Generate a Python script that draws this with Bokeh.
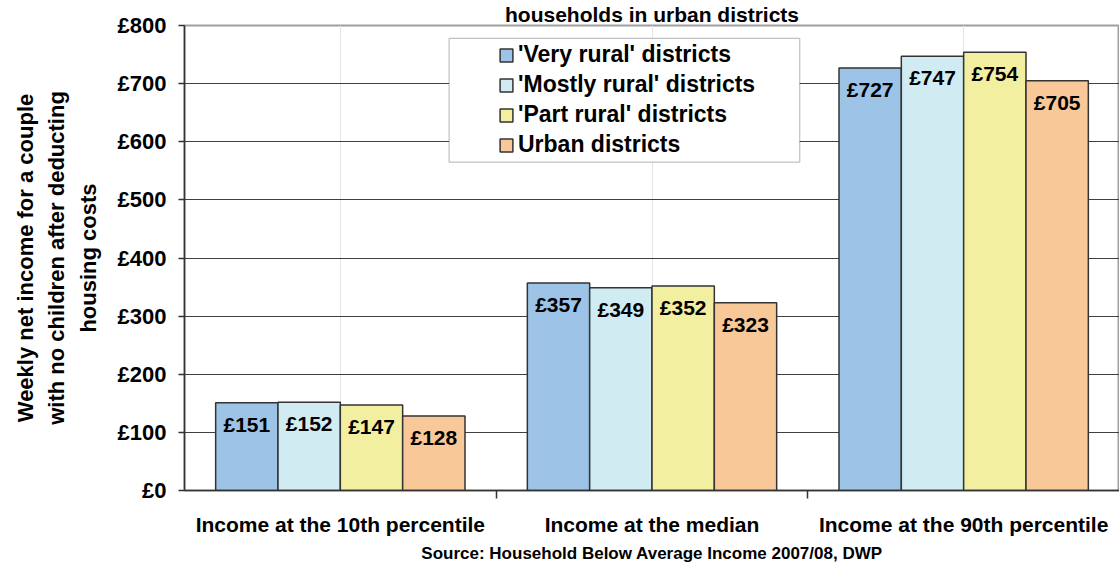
from bokeh.plotting import figure
from bokeh.models import (FactorRange, Range1d, LinearAxis, FixedTicker, ColumnDataSource,
                          LabelSet, Legend, LegendItem, BoxAnnotation, Title)
from bokeh.core.properties import value
from bokeh.transform import dodge
from bokeh.embed import file_html
from bokeh.resources import INLINE

# ---- data ----
categories = ["Income at the 10th percentile", "Income at the median", "Income at the 90th percentile"]
series_names = ["'Very rural' districts", "'Mostly rural' districts", "'Part rural' districts", "Urban districts"]
very_rural = [151, 357, 727]
mostly_rural = [152, 349, 747]
part_rural = [147, 352, 754]
urban = [128, 323, 705]
y_ticks = [0, 100, 200, 300, 400, 500, 600, 700, 800]
y_tick_labels = ["£0", "£100", "£200", "£300", "£400", "£500", "£600", "£700", "£800"]
title_text = "households in urban districts"
y_title = "Weekly net income for a couple\nwith no children after deducting\nhousing costs"
source_text = "Source: Household Below Average Income 2007/08, DWP"

colors = ["#9DC3E6", "#D0ECF2", "#F2F0A0", "#F8C898"]
FONT = "Liberation Sans"

src = ColumnDataSource(dict(
    cat=categories,
    s0=very_rural, s1=mostly_rural, s2=part_rural, s3=urban,
    l0=["£%d" % v for v in very_rural],
    l1=["£%d" % v for v in mostly_rural],
    l2=["£%d" % v for v in part_rural],
    l3=["£%d" % v for v in urban],
))

p = figure(width=1119, height=565, output_backend="svg", toolbar_location=None,
           x_range=FactorRange(factors=categories), y_range=Range1d(0, 800),
           x_axis_location=None, min_border_left=184, min_border_right=0,
           min_border_top=24, min_border_bottom=75)
p.background_fill_color = "white"
p.border_fill_color = "white"
p.outline_line_color = "#a0a0a0"
p.outline_line_width = 2

# title (only its last line is visible in the original)
p.add_layout(Title(text=title_text, align="center", standoff=0, offset=0,
                   text_font=FONT, text_font_style="bold", text_font_size="21px",
                   text_color="black"), "above")

# y axis
ya = p.yaxis[0]
ya.ticker = FixedTicker(ticks=y_ticks)
ya.major_label_overrides = {t: l for t, l in zip(y_ticks, y_tick_labels)}
ya.major_label_text_font = FONT
ya.major_label_text_font_style = "bold"
ya.major_label_text_font_size = "22px"
ya.major_label_text_color = "black"
ya.major_label_standoff = 12
ya.major_tick_out = 6
ya.major_tick_in = 0
ya.minor_tick_line_color = None
ya.axis_line_color = "#333333"
ya.axis_line_width = 1.5
ya.major_tick_line_color = "#333333"
ya.major_tick_line_width = 1.5
ya.axis_label = y_title
ya.axis_label_text_font = FONT
ya.axis_label_text_font_style = "bold"
ya.axis_label_text_font_size = "22px"
ya.axis_label_text_color = "black"
ya.axis_label_text_line_height = 1.25
ya.axis_label_standoff = 14

p.ygrid.ticker = FixedTicker(ticks=y_ticks[1:-1])
p.ygrid.grid_line_color = "#404040"
p.ygrid.grid_line_width = 1

# x axis: boundary ticks between categories + centred category labels
xa = LinearAxis(ticker=FixedTicker(ticks=[0.5, 1.5, 2.5], minor_ticks=[1, 2]))
xa.major_label_overrides = {0.5: categories[0], 1.5: categories[1], 2.5: categories[2]}
xa.major_label_text_font = FONT
xa.major_label_text_font_style = "bold"
xa.major_label_text_font_size = "21px"
xa.major_label_text_color = "black"
xa.major_label_standoff = 14
xa.major_tick_out = 0
xa.major_tick_in = 0
xa.major_tick_line_color = None
xa.minor_tick_out = 8
xa.minor_tick_in = 0
xa.minor_tick_line_color = "#333333"
xa.minor_tick_line_width = 1.5
xa.axis_line_color = "#333333"
xa.axis_line_width = 1.5
p.add_layout(xa, "below")

offsets = [-0.3, -0.1, 0.1, 0.3]
renderers = []
for i in range(4):
    r = p.vbar(x=dodge("cat", offsets[i], range=p.x_range), top="s%d" % i, width=0.2,
               source=src, fill_color=colors[i], line_color="#333333", line_width=1.5)
    renderers.append(r)
    p.add_layout(LabelSet(x=dodge("cat", offsets[i], range=p.x_range), y="s%d" % i,
                          text="l%d" % i, source=src, y_offset=-10,
                          text_align="center", text_baseline="top",
                          text_font=value(FONT), text_font_style="bold",
                          text_font_size="21px", text_color="black"))

# legend box
p.add_layout(BoxAnnotation(left=0.849, right=1.974, bottom=564.8, top=777.7,
                           fill_color="white", fill_alpha=1.0,
                           line_color="#333333", line_width=1.2))
legend = Legend(items=[LegendItem(label=series_names[i], renderers=[renderers[i]]) for i in range(4)],
                location=(314, 332), padding=0, margin=0, spacing=3,
                border_line_color=None, background_fill_alpha=0,
                glyph_width=16, glyph_height=16, label_height=16, label_standoff=4,
                label_text_font=FONT, label_text_font_style="bold",
                label_text_font_size="23px", label_text_color="black")
p.add_layout(legend)

# source note
p.add_layout(Title(text=source_text, align="center", offset=-6, standoff=6,
                   text_font=FONT, text_font_style="bold", text_font_size="17px",
                   text_color="black"), "below")

open("out.html", "w").write(file_html(p, INLINE))
